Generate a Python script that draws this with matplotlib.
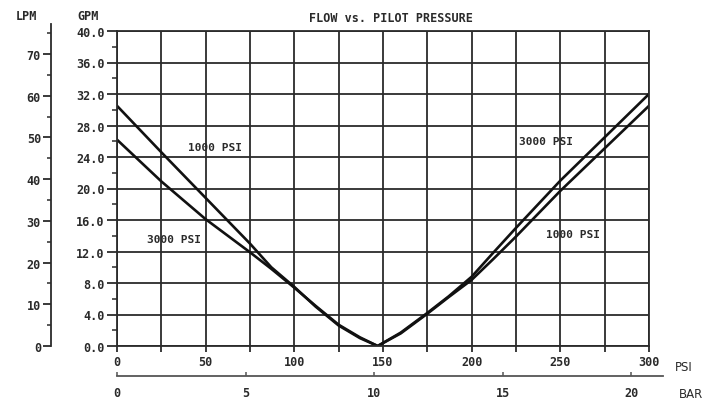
import matplotlib
matplotlib.use('Agg')
import matplotlib.pyplot as plt
from matplotlib.ticker import MultipleLocator

# data
psi = [0, 25, 50, 75, 87, 100, 112, 125, 137, 147, 160, 175, 187, 200, 212, 225, 250, 275, 300]
gpm_1000 = [30.5, 24.6, 18.8, 13.0, 10.0, 7.5, 5.0, 2.6, 1.0, 0.0, 1.6, 4.1, 6.2, 8.4, 11.0, 13.9, 19.7, 25.1, 30.5]
gpm_3000 = [26.2, 20.9, 16.1, 11.9, 9.8, 7.4, 5.1, 2.7, 1.1, 0.0, 1.7, 4.2, 6.3, 8.8, 11.8, 15.0, 21.0, 26.5, 32.0]
gpm_ticks = [0, 4, 8, 12, 16, 20, 24, 28, 32, 36, 40]
psi_ticks = [0, 25, 50, 75, 100, 125, 150, 175, 200, 225, 250, 275, 300]
lpm_ticks = [0, 10, 20, 30, 40, 50, 60, 70]
bar_ticks = [0, 5, 10, 15, 20]

W, H = 714, 406
mono = 'DejaVu Sans Mono'
ink = '#111111'
grid_c = '#2b2b2b'
txt_c = '#2a2a2a'

fig = plt.figure(figsize=(W / 100, H / 100), dpi=100)

# main axes (GPM vs PSI)
ax = fig.add_axes([117 / W, 59 / H, 532 / W, 315 / H])
ax.plot(psi, gpm_1000, color=ink, lw=1.9, solid_joinstyle='round')
ax.plot(psi, gpm_3000, color=ink, lw=1.9, solid_joinstyle='round')
ax.set_xlim(0, 300)
ax.set_ylim(0, 40)
ax.set_xticks(psi_ticks)
ax.set_xticklabels([str(p) if p % 50 == 0 else '' for p in psi_ticks])
ax.set_yticks(gpm_ticks)
ax.set_yticklabels(['%.1f' % g for g in gpm_ticks])
ax.yaxis.set_minor_locator(MultipleLocator(2))
ax.grid(True, which='major', color=grid_c, lw=1.3)
for s in ax.spines.values():
    s.set_color(grid_c)
    s.set_linewidth(1.3)
ax.tick_params(axis='y', which='major', direction='out', length=7, width=1.3,
               color=grid_c, pad=2, labelsize=8.5)
ax.tick_params(axis='y', which='minor', direction='out', length=3.5, width=1.1, color=grid_c)
ax.tick_params(axis='x', which='major', direction='out', length=4.5, width=1.3,
               color=grid_c, pad=2, labelsize=8.5)
for lab in ax.get_xticklabels() + ax.get_yticklabels():
    lab.set_fontfamily(mono)
    lab.set_fontweight('bold')
    lab.set_color(txt_c)

# curve labels
lab_kw = dict(fontfamily=mono, fontweight='bold', fontsize=8, color=txt_c, ha='center', va='center')
ax.text(55, 25.3, '1000 PSI', **lab_kw)
ax.text(32, 13.6, '3000 PSI', **lab_kw)
ax.text(242, 26.0, '3000 PSI', **lab_kw)
ax.text(257, 14.2, '1000 PSI', **lab_kw)

# LPM axis on the far left
ax_lpm = fig.add_axes([50.7 / W, 59 / H, 0.002, 322 / H])
ax_lpm.set_ylim(0, 77.2)
ax_lpm.set_yticks(lpm_ticks)
ax_lpm.set_yticklabels([str(v) for v in lpm_ticks])
ax_lpm.yaxis.set_minor_locator(MultipleLocator(5))
ax_lpm.set_xticks([])
ax_lpm.patch.set_visible(False)
for k in ['top', 'right', 'bottom']:
    ax_lpm.spines[k].set_visible(False)
ax_lpm.spines['left'].set_color(grid_c)
ax_lpm.spines['left'].set_linewidth(1.3)
ax_lpm.tick_params(axis='y', which='major', direction='out', length=5.5, width=1.3,
                   color=grid_c, pad=1.5, labelsize=8.5)
ax_lpm.tick_params(axis='y', which='minor', direction='out', length=3, width=1.1, color=grid_c)
for lab in ax_lpm.get_yticklabels():
    lab.set_fontfamily(mono)
    lab.set_fontweight('bold')
    lab.set_color(txt_c)

# BAR axis below
bar_max = (663 - 117) / 532 * 300 / 14.5
ax_bar = fig.add_axes([117 / W, (H - 377) / H, (663 - 117) / W, 0.002])
ax_bar.set_xlim(0, bar_max)
ax_bar.set_xticks(bar_ticks)
ax_bar.set_xticklabels([str(v) for v in bar_ticks])
ax_bar.set_yticks([])
ax_bar.patch.set_visible(False)
for k in ['top', 'right', 'left']:
    ax_bar.spines[k].set_visible(False)
ax_bar.spines['bottom'].set_color('#555555')
ax_bar.spines['bottom'].set_linewidth(1.3)
ax_bar.tick_params(axis='x', direction='in', length=3, width=1.1, color='#555555',
                   pad=7, labelsize=8.5)
for lab in ax_bar.get_xticklabels():
    lab.set_fontfamily(mono)
    lab.set_fontweight('bold')
    lab.set_color(txt_c)

# titles and unit labels
fig.text(391 / W, 1 - 18 / H, 'FLOW vs. PILOT PRESSURE', ha='center', va='center',
         fontfamily=mono, fontweight='bold', fontsize=8.5, color=txt_c)
fig.text(26 / W, 1 - 16 / H, 'LPM', ha='center', va='center',
         fontfamily=mono, fontweight='bold', fontsize=8.5, color=txt_c)
fig.text(88 / W, 1 - 16 / H, 'GPM', ha='center', va='center',
         fontfamily=mono, fontweight='bold', fontsize=8.5, color=txt_c)
fig.text(675 / W, 1 - 368 / H, 'PSI', ha='left', va='center', fontsize=8.5, color=txt_c)
fig.text(679 / W, 1 - 395 / H, 'BAR', ha='left', va='center', fontsize=8.5, color=txt_c)

fig.savefig('out.png', dpi=100)
